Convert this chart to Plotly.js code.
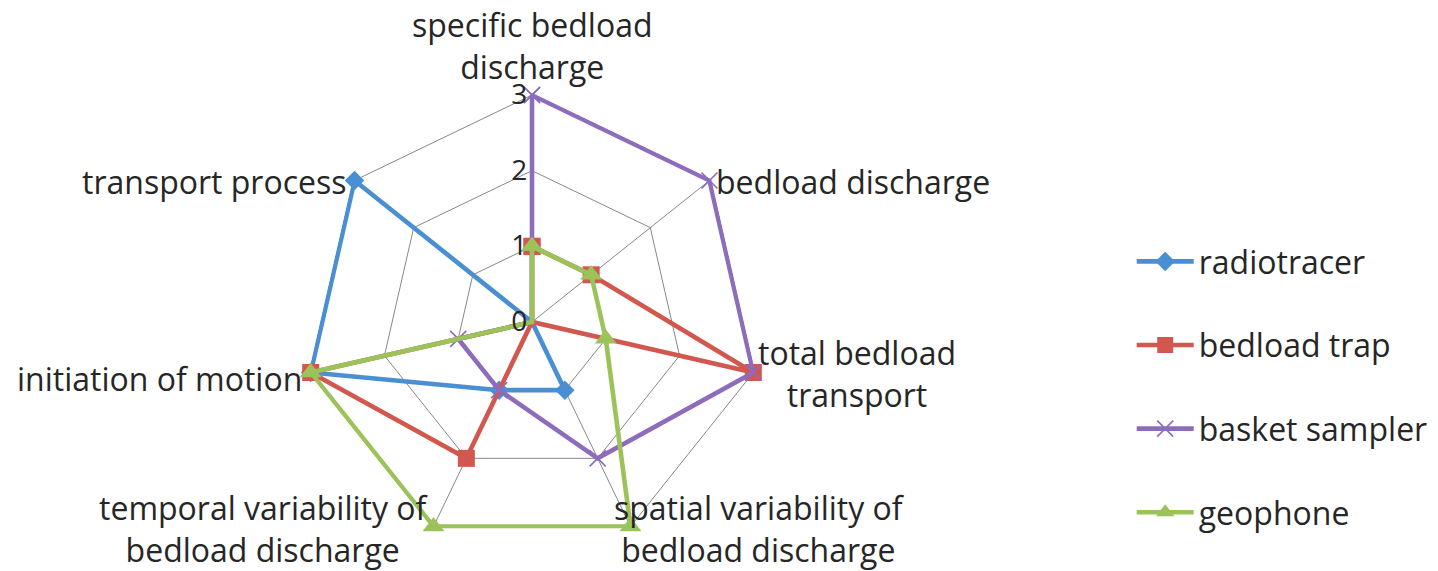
<!DOCTYPE html>
<html>
<head>
<meta charset="utf-8">
<script src="https://cdn.plot.ly/plotly-3.0.1.min.js"></script>
<style>
  html, body { margin: 0; padding: 0; background: #ffffff; }
  #chart { width: 1438px; height: 571px; }
</style>
</head>
<body>
<div id="chart"></div>
<script>
// Spoke labels, clockwise from the top
const categories = [
  'specific bedload<br>discharge',
  'bedload discharge',
  'total bedload<br>transport',
  'spatial variability of<br>bedload discharge',
  'temporal variability of<br>bedload discharge',
  'initiation of motion',
  'transport process'
];

// Scores (0-3) for each measuring method
const radiotracer   = [0, 0, 0, 1, 1, 3, 3];
const bedloadTrap   = [1, 1, 3, 0, 2, 3, 0];
const basketSampler = [3, 3, 3, 2, 1, 1, 0];
const geophone      = [1, 1, 1, 3, 3, 3, 0];

const radialTicks = [0, 1, 2, 3];

const W = 1438, H = 571;
const FONT = '"Open Sans", "Noto Sans", sans-serif';
const TEXT = '#262626';
const GRID = '#888888';

// Plot centre and the pixel radius of the outermost ring (score 3)
const CENTER = { x: 532, y: 322 };
const RING_PX = 227;
// a little headroom past 3 so lines lying on the outer ring aren't clipped
const R_MAX = 3.03;
const outerPx = RING_PX * R_MAX / 3;
const DOMAIN = {
  x: [(CENTER.x - outerPx) / W, (CENTER.x + outerPx) / W],
  y: [(H - CENTER.y - outerPx) / H, (H - CENTER.y + outerPx) / H]
};

// close each polygon by repeating its first vertex
const closeLoop = arr => arr.concat([arr[0]]);

function series(name, values, color, marker) {
  return {
    type: 'scatterpolar',
    mode: 'lines+markers',
    name: name,
    legendgroup: name,
    r: closeLoop(values),
    theta: closeLoop(categories),
    line: { color: color, width: 4.6 },
    marker: Object.assign({ color: color }, marker),
    cliponaxis: false,
    hoverinfo: 'name+r'
  };
}

const traces = [
  series('radiotracer', radiotracer, '#4A8FD2', { symbol: 'diamond', size: 15 }),
  series('bedload trap', bedloadTrap, '#D2574E', { symbol: 'square', size: 17 }),
  series('basket sampler', basketSampler, '#8E6CBC',
         { symbol: 'x-thin-open', size: 16, line: { color: '#8E6CBC', width: 1.6 } }),
  series('geophone', geophone, '#9CC25A', { symbol: 'triangle-up', size: 19 })
];

// Spoke labels sit beside the outer vertex of each spoke; the side they
// hang on depends on where the spoke points.
const labelPlacement = [
  { xanchor: 'center', yanchor: 'bottom', dx: 0,   dy: -6 },
  { xanchor: 'left',   yanchor: 'middle', dx: 6,   dy: 1 },
  { xanchor: 'left',   yanchor: 'middle', dx: 4,   dy: 1 },
  { xanchor: 'left',   yanchor: 'middle', dx: -17, dy: 2 },
  { xanchor: 'right',  yanchor: 'middle', dx: -4,  dy: 2 },
  { xanchor: 'right',  yanchor: 'middle', dx: -8,  dy: 6 },
  { xanchor: 'right',  yanchor: 'middle', dx: -8,  dy: 1 }
];

const cx = (DOMAIN.x[0] + DOMAIN.x[1]) / 2;
const cy = (DOMAIN.y[0] + DOMAIN.y[1]) / 2;
const maxScore = radialTicks[radialTicks.length - 1];
const ringPx = Math.min((DOMAIN.x[1] - DOMAIN.x[0]) * W, (DOMAIN.y[1] - DOMAIN.y[0]) * H) / 2
               * maxScore / R_MAX;

const spokeLabels = categories.map((text, i) => {
  const a = i * 2 * Math.PI / categories.length;
  const p = labelPlacement[i];
  return {
    xref: 'paper', yref: 'paper',
    x: cx + ringPx * Math.sin(a) / W,
    y: cy + ringPx * Math.cos(a) / H,
    xshift: p.dx, yshift: -p.dy,
    xanchor: p.xanchor, yanchor: p.yanchor,
    align: 'center',
    text: text,
    showarrow: false,
    borderpad: 0,
    font: { family: FONT, color: TEXT, size: 32 }
  };
});

const layout = {
  width: W,
  height: H,
  margin: { l: 0, r: 0, t: 0, b: 0 },
  paper_bgcolor: '#ffffff',
  showlegend: true,
  font: { family: FONT, color: TEXT, size: 28 },
  annotations: spokeLabels,
  polar: {
    domain: DOMAIN,
    gridshape: 'linear',
    bgcolor: 'rgba(0,0,0,0)',
    angularaxis: {
      type: 'category',
      direction: 'clockwise',
      rotation: 90,
      showline: false,
      showgrid: true,
      gridcolor: GRID,
      gridwidth: 1,
      ticks: '',
      showticklabels: false
    },
    radialaxis: {
      range: [0, R_MAX],
      tickvals: radialTicks,
      ticktext: radialTicks.map(String),
      angle: 90,
      side: 'counterclockwise',
      showline: false,
      ticks: '',
      showgrid: true,
      gridcolor: GRID,
      gridwidth: 1,
      tickangle: 90,
      tickfont: { family: FONT, color: TEXT, size: 28 }
    }
  },
  legend: {
    x: 0.787,
    y: 0.590,
    xanchor: 'left',
    yanchor: 'top',
    itemwidth: 57,
    tracegroupgap: 39,
    font: { family: FONT, color: TEXT, size: 32 },
    bgcolor: 'rgba(0,0,0,0)'
  }
};

Plotly.newPlot('chart', traces, layout, { displayModeBar: false, responsive: false });
</script>
</body>
</html>
